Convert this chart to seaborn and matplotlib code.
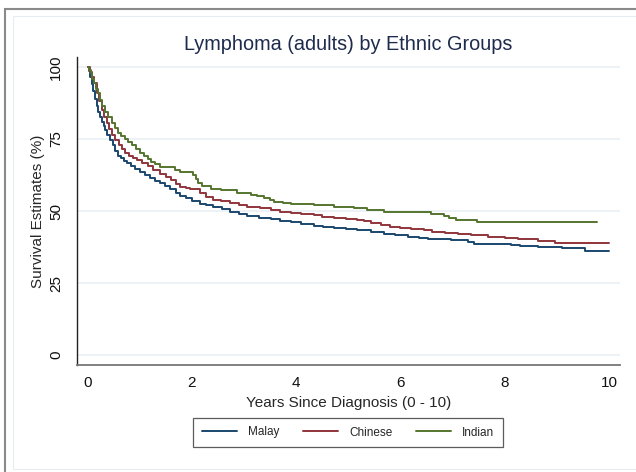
import matplotlib
matplotlib.use("Agg")
import matplotlib.pyplot as plt
from matplotlib.patches import Rectangle
import numpy as np
import pandas as pd
import seaborn as sns

# Kaplan-Meier style survival estimates (%) by ethnic group
groups = ["Malay", "Chinese", "Indian"]
colors = ["#1a476f", "#90353b", "#55752f"]

malay_t = [0, 0.03, 0.05, 0.08, 0.11, 0.14, 0.18, 0.21, 0.24, 0.28,
           0.31, 0.34, 0.38, 0.43, 0.48, 0.53, 0.59, 0.64, 0.69, 0.76,
           0.83, 0.91, 1.0, 1.1, 1.2, 1.3, 1.39, 1.49, 1.59, 1.69,
           1.78, 1.88, 2.0, 2.16, 2.28, 2.41, 2.57, 2.74, 2.9, 3.06,
           3.28, 3.51, 3.7, 3.9, 4.1, 4.34, 4.52, 4.72, 4.95, 5.17,
           5.43, 5.68, 5.9, 6.14, 6.35, 6.52, 6.97, 7.3, 7.42, 8.12,
           8.3, 8.64, 9.09, 9.53, 10.0]
malay_s = [100, 98.5, 96.5, 94.0, 91.5, 88.8, 86.5, 84.5, 82.7, 81.0,
           79.5, 78.1, 76.5, 74.7, 72.8, 71.0, 69.2, 68.3, 67.5, 66.5,
           65.5, 64.6, 63.7, 62.6, 61.5, 60.5, 59.6, 58.6, 57.6, 56.4,
           55.2, 54.4, 53.6, 52.6, 52.0, 51.5, 50.7, 49.8, 49.1, 48.3,
           47.7, 47.1, 46.6, 46.1, 45.5, 44.9, 44.5, 44.0, 43.7, 43.4,
           42.6, 41.9, 41.5, 41.1, 40.7, 40.3, 39.9, 39.4, 38.7, 38.2,
           38.0, 37.6, 37.0, 36.1, 36.1]

chinese_t = [0, 0.04, 0.08, 0.12, 0.18, 0.22, 0.27, 0.32, 0.37, 0.42,
             0.47, 0.53, 0.6, 0.66, 0.72, 0.8, 0.87, 0.95, 1.05, 1.15,
             1.25, 1.39, 1.5, 1.6, 1.7, 1.78, 1.88, 1.97, 2.16, 2.28,
             2.41, 2.55, 2.74, 2.9, 3.06, 3.3, 3.51, 3.7, 3.9, 4.1,
             4.34, 4.5, 4.72, 4.95, 5.17, 5.3, 5.43, 5.63, 5.8, 6.0,
             6.2, 6.45, 6.6, 6.85, 7.1, 7.36, 7.68, 8.0, 8.26, 8.64,
             8.96, 10.0]
chinese_s = [100, 98.3, 96.6, 94.3, 90.9, 88.3, 85.1, 82.7, 80.4, 78.3,
             76.5, 74.7, 72.9, 71.5, 70.3, 69.2, 68.5, 67.7, 66.6, 65.5,
             64.4, 63.0, 61.8, 60.6, 59.4, 58.5, 58.0, 57.6, 56.1, 54.9,
             53.8, 53.3, 52.9, 52.2, 51.5, 50.9, 50.3, 49.8, 49.4, 49.0,
             48.6, 48.0, 47.4, 47.1, 46.9, 46.4, 45.9, 45.1, 44.6, 44.0,
             43.7, 43.4, 42.8, 42.3, 41.9, 41.7, 41.0, 40.7, 40.2, 39.6,
             38.9, 38.9]

indian_t = [0, 0.03, 0.06, 0.09, 0.13, 0.17, 0.2, 0.24, 0.28, 0.34,
            0.4, 0.47, 0.53, 0.59, 0.65, 0.72, 0.78, 0.85, 0.92, 1.01,
            1.08, 1.15, 1.22, 1.3, 1.39, 1.68, 1.78, 2.03, 2.08, 2.12,
            2.2, 2.36, 2.55, 2.87, 3.13, 3.25, 3.38, 3.5, 3.57, 3.75,
            3.9, 4.34, 4.72, 5.1, 5.35, 5.68, 6.59, 6.84, 6.93, 7.07,
            7.47, 9.76]
indian_s = [100, 98.9, 97.8, 96.0, 94.3, 92.5, 90.8, 88.5, 86.5, 84.5,
            82.5, 80.4, 78.8, 77.0, 76.0, 75.0, 74.1, 72.9, 71.5, 70.0,
            69.0, 68.0, 67.0, 66.2, 65.3, 64.4, 63.6, 62.5, 61.0, 59.6,
            58.8, 57.8, 57.3, 56.4, 55.6, 55.2, 54.6, 53.9, 53.2, 52.8,
            52.4, 52.1, 51.5, 50.9, 50.3, 49.8, 49.0, 48.4, 47.7, 47.0,
            46.3, 46.3]

x_ticks = [0, 2, 4, 6, 8, 10]
y_ticks = [0, 25, 50, 75, 100]

df = pd.concat([
    pd.DataFrame({"years": malay_t, "surv": malay_s, "group": "Malay"}),
    pd.DataFrame({"years": chinese_t, "surv": chinese_s, "group": "Chinese"}),
    pd.DataFrame({"years": indian_t, "surv": indian_s, "group": "Indian"}),
], ignore_index=True)

sns.set_style("white")
plt.rcParams["font.family"] = ["Liberation Sans", "DejaVu Sans"]

W, H = 636, 472
fig = plt.figure(figsize=(W / 100, H / 100), dpi=100)
fig.patch.set_facecolor("white")

# graph region frames
fig.add_artist(Rectangle((4.5 / W, -0.1), 1.2, 1 - 8.5 / H + 0.1,
                         transform=fig.transFigure, fill=False,
                         edgecolor="#8a8a8a", lw=1.5))
fig.add_artist(Rectangle((12.5 / W, 1 - 469 / H), 1.2, (469 - 16) / H,
                         transform=fig.transFigure, fill=False,
                         edgecolor="#e6edf2", lw=0.8))

ax = fig.add_axes([77 / W, 1 - 365 / H, (620 - 77) / W, (365 - 57) / H])
ax.set_facecolor("white")

sns.lineplot(data=df, x="years", y="surv", hue="group", hue_order=groups,
             palette=dict(zip(groups, colors)), drawstyle="steps-post",
             lw=1.4, legend=False, estimator=None, sort=False, ax=ax)

ax.set_xlim(-0.202, 10.21)
ax.set_ylim(-3.47, 103.47)
ax.set_xticks(x_ticks)
ax.set_yticks(y_ticks)
ax.set_yticklabels([str(v) for v in y_ticks], rotation=90, va="center")
ax.grid(axis="y", color="#eaf1f4", lw=1.3)
ax.grid(axis="x", visible=False)
ax.set_axisbelow(True)

for s in ["top", "right"]:
    ax.spines[s].set_visible(False)
ax.spines["left"].set_color("#222222")
ax.spines["left"].set_linewidth(1.0)
ax.spines["bottom"].set_color("#777777")
ax.spines["bottom"].set_linewidth(1.3)
ax.tick_params(axis="both", direction="out", length=5, width=1.0,
               color="#777777", labelsize=11, labelcolor="#111111")
ax.tick_params(axis="y", pad=5)
ax.tick_params(axis="x", pad=3)

ax.set_xlabel("Years Since Diagnosis (0 - 10)", fontsize=11, labelpad=4)
ax.set_ylabel("Survival Estimates (%)", fontsize=11, labelpad=3)
fig.text(348 / W, 1 - 45 / H, "Lymphoma (adults) by Ethnic Groups",
         ha="center", va="center", fontsize=14.3, color="#1e2b4d")

leg = ax.legend(handles=ax.lines[:3], labels=groups, ncol=3,
                loc="center", bbox_to_anchor=(348 / W, 1 - 432.5 / H),
                bbox_transform=fig.transFigure, fontsize=8.5,
                frameon=True, fancybox=False, handlelength=3.0,
                handletextpad=0.9, columnspacing=2.0, borderpad=0.75)
leg.get_frame().set_edgecolor("#333333")
leg.get_frame().set_linewidth(0.9)

fig.savefig("out.png", dpi=100, facecolor="white")
